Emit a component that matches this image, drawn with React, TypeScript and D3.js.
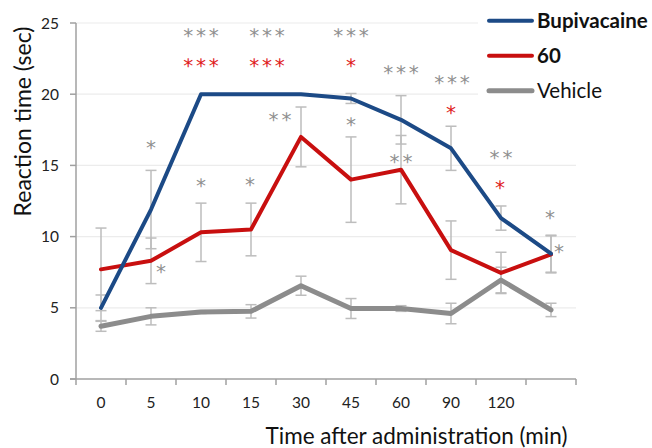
import React from "react";
import * as d3 from "d3";

const categories = ["0", "5", "10", "15", "30", "45", "60", "90", "120", ""];
const bupivacaine = [5.0, 11.9, 20.0, 20.0, 20.0, 19.7, 18.2, 16.2, 11.3, 8.8];
const bupivacaineErr = [0.9, 2.75, 0, 0, 0, 0.35, 1.7, 1.55, 0.85, 1.3];
const dose60 = [7.7, 8.3, 10.3, 10.5, 17.0, 14.0, 14.7, 9.05, 7.45, 8.75];
const dose60Err = [2.9, 1.6, 2.05, 1.85, 2.1, 3.0, 2.4, 2.05, 1.45, 1.3];
const vehicle = [3.7, 4.4, 4.7, 4.75, 6.55, 4.95, 4.95, 4.6, 6.95, 4.85];
const vehicleErr = [0.35, 0.6, 0.1, 0.47, 0.67, 0.7, 0.2, 0.72, 0.9, 0.47];
const yTicks = [0, 5, 10, 15, 20, 25];

type Ann = { cat: string; v: number; dx: number; text: string; red: boolean };
const annotations: Ann[] = [
  { cat: "5", v: 16.43, dx: 0, text: "*", red: false },
  { cat: "5", v: 7.72, dx: 10, text: "*", red: false },
  { cat: "10", v: 24.35, dx: 0, text: "***", red: false },
  { cat: "10", v: 22.24, dx: 0, text: "***", red: true },
  { cat: "10", v: 13.76, dx: 0, text: "*", red: false },
  { cat: "15", v: 24.35, dx: 16, text: "***", red: false },
  { cat: "15", v: 22.24, dx: 16, text: "***", red: true },
  { cat: "15", v: 13.86, dx: -1, text: "*", red: false },
  { cat: "30", v: 18.42, dx: -21, text: "**", red: false },
  { cat: "45", v: 24.35, dx: 0, text: "***", red: false },
  { cat: "45", v: 22.24, dx: 0, text: "*", red: true },
  { cat: "45", v: 18.07, dx: 0, text: "*", red: false },
  { cat: "60", v: 21.7, dx: 0, text: "***", red: false },
  { cat: "60", v: 15.5, dx: 0, text: "**", red: false },
  { cat: "90", v: 21.0, dx: 1, text: "***", red: false },
  { cat: "90", v: 18.94, dx: 0, text: "*", red: true },
  { cat: "120", v: 15.73, dx: 0, text: "**", red: false },
  { cat: "120", v: 13.67, dx: -1, text: "*", red: true },
  { cat: "", v: 11.52, dx: -1, text: "*", red: false },
  { cat: "", v: 9.18, dx: 8, text: "*", red: false },
];

const series = [
  { name: "Bupivacaine", values: bupivacaine, err: bupivacaineErr, color: "#1c4a86", width: 4, bold: true },
  { name: "60", values: dose60, err: dose60Err, color: "#c80f0f", width: 4, bold: true },
  { name: "Vehicle", values: vehicle, err: vehicleErr, color: "#8c8c8c", width: 5, bold: false },
];

export default function App() {
  const W = 652, H = 448;
  const x = d3.scaleBand<string>().domain(categories).range([76, 576]);
  const y = d3.scaleLinear().domain([0, 25]).range([379, 23]);
  const cx = (c: string) => (x(c) as number) + x.bandwidth() / 2;
  const line = d3.line<number>().x((_, i) => cx(categories[i])).y((d) => y(d));
  const font = "Lato, 'Open Sans', sans-serif";
  const legendOrder = [0, 1, 2];
  const asterFont = 20;
  const ls = 2.8;
  const cap = 5.5;

  return (
    <svg width={W} height={H} style={{ position: "absolute", left: 0, top: 0, background: "#fff" }}>
      {yTicks.filter((t) => t > 0).map((t) => (
        <line key={t} x1={76} x2={576} y1={y(t)} y2={y(t)} stroke="#ececec" strokeWidth={1.2} />
      ))}
      <line x1={76} x2={76} y1={y(25)} y2={y(0)} stroke="#a0a0a0" strokeWidth={1.5} />
      <line x1={70} x2={576} y1={y(0)} y2={y(0)} stroke="#a0a0a0" strokeWidth={1.5} />
      {yTicks.map((t) => (
        <g key={t}>
          <line x1={70} x2={76} y1={y(t)} y2={y(t)} stroke="#a0a0a0" strokeWidth={1.5} />
          <text x={59} y={y(t) + 5.5} textAnchor="end" fontFamily={font} fontSize={15.5} fill="#222">{t}</text>
        </g>
      ))}
      {categories.map((c, i) => (
        <line key={"xt" + i} x1={x(c)} x2={x(c)} y1={y(0)} y2={y(0) + 6} stroke="#a0a0a0" strokeWidth={1.5} />
      ))}
      <line x1={576} x2={576} y1={y(0)} y2={y(0) + 6} stroke="#a0a0a0" strokeWidth={1.5} />
      {categories.map((c, i) => (
        <text key={"xl" + i} x={cx(c)} y={408} textAnchor="middle" fontFamily={font} fontSize={15.5} fill="#222">{c}</text>
      ))}
      {series.map((s) =>
        s.values.map((v, i) =>
          s.err[i] > 0 ? (
            <g key={s.name + "e" + i} stroke="#bdbdbd" strokeWidth={1.5}>
              <line x1={cx(categories[i])} x2={cx(categories[i])} y1={y(v + s.err[i])} y2={y(v - s.err[i])} />
              <line x1={cx(categories[i]) - cap} x2={cx(categories[i]) + cap} y1={y(v + s.err[i])} y2={y(v + s.err[i])} />
              <line x1={cx(categories[i]) - cap} x2={cx(categories[i]) + cap} y1={y(v - s.err[i])} y2={y(v - s.err[i])} />
            </g>
          ) : null
        )
      )}
      {[2, 1, 0].map((k) => (
        <path key={series[k].name} d={line(series[k].values) as string} fill="none" stroke={series[k].color}
          strokeWidth={series[k].width} strokeLinejoin="round" strokeLinecap="round" />
      ))}
      {annotations.map((a, i) => (
        <text key={"a" + i} x={cx(a.cat) + a.dx + (a.text.length > 1 ? ls / 2 : 0)} y={y(a.v) + asterFont * 0.52}
          textAnchor="middle" fontFamily="'DejaVu Sans', sans-serif" fontSize={asterFont}
          letterSpacing={a.text.length > 1 ? ls : 0}
          style={{ textRendering: "geometricPrecision" }}
          fill={a.red ? "#e01b1b" : "#8f8f8f"}>{a.text}</text>
      ))}
      <rect x={478} y={0} width={174} height={108} fill="#fff" />
      {legendOrder.map((k, j) => {
        const ly = 20.7 + j * 35;
        const s = series[k];
        return (
          <g key={"lg" + k}>
            <line x1={489} x2={532} y1={ly} y2={ly} stroke={s.color} strokeWidth={s.width} strokeLinecap="round" />
            <text x={537} y={ly + 7} fontFamily={font} fontSize={20.5} fontWeight={s.bold ? 700 : 400} fill="#111">{s.name}</text>
          </g>
        );
      })}
      <text transform={`translate(31, 121.5) rotate(-90)`} textAnchor="middle" fontFamily={font} fontSize={23} fill="#111">
        Reaction time (sec)
      </text>
      <text x={416.5} y={444} textAnchor="middle" fontFamily={font} fontSize={22.5} fill="#111">
        Time after administration (min)
      </text>
    </svg>
  );
}
